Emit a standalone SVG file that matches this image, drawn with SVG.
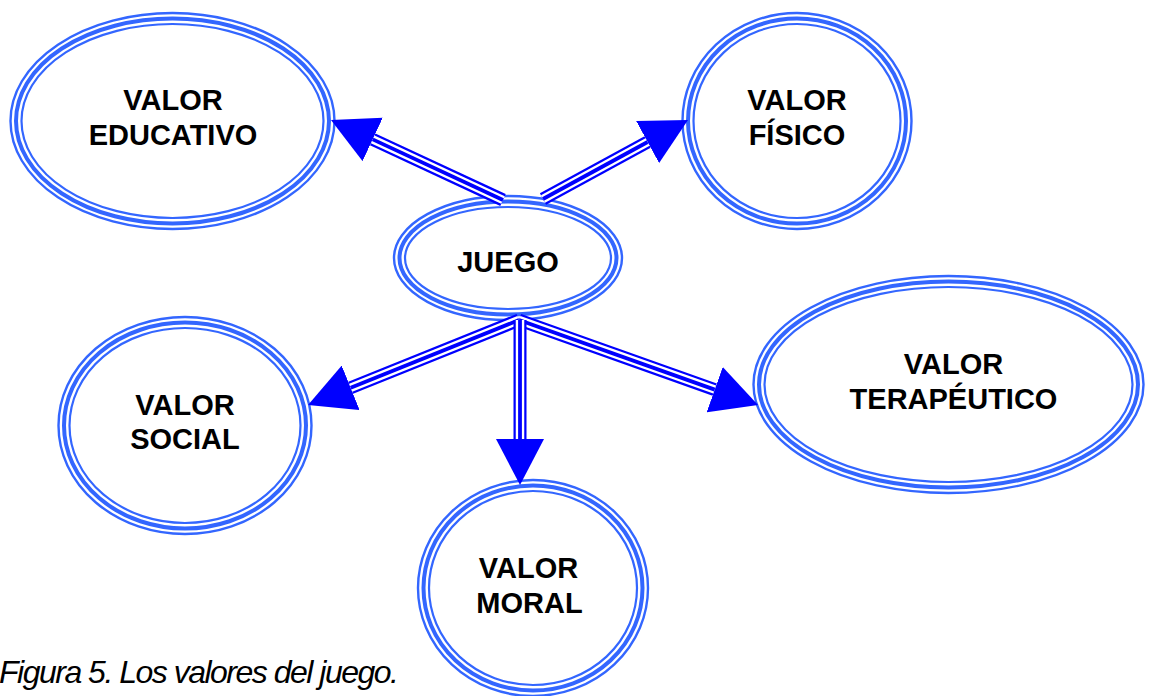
<svg xmlns="http://www.w3.org/2000/svg" width="1150" height="696" viewBox="0 0 1150 696">
<style>
.ro{fill:#ffffff;stroke:#3366ff;stroke-width:2.4}
.rm{fill:none;stroke:#3366ff;stroke-width:4}
.ri{fill:none;stroke:#3366ff;stroke-width:2.2}
.lbl{font-family:"Liberation Sans",Arial,sans-serif;font-weight:bold;font-size:29px;fill:#000000;text-anchor:middle}
.s1{stroke:#0000ff;stroke-width:13;fill:none}
.s2{stroke:#ffffff;stroke-width:8.5;fill:none}
.s3{stroke:#0000ff;stroke-width:3.8;fill:none}
.cap{font-family:"Liberation Sans",Arial,sans-serif;font-style:italic;font-size:32px;letter-spacing:-1.5px;fill:#000000}
</style>
<defs>
<marker id="ah" markerUnits="userSpaceOnUse" viewBox="0 0 46 48" markerWidth="46" markerHeight="48" refX="0" refY="24" orient="auto">
<path d="M0,0 L46,24 L0,48 Z" fill="#0000ff"/>
</marker>
</defs>
<rect width="1150" height="696" fill="#ffffff"/>
<g id="n-educativo">
<ellipse class="ro" cx="172.5" cy="121" rx="162" ry="108"/>
<ellipse class="rm" cx="172.5" cy="121" rx="156.5" ry="102.5"/>
<ellipse class="ri" cx="172.5" cy="121" rx="151" ry="97"/>
<text class="lbl" x="173" y="110">VALOR</text>
<text class="lbl" x="173" y="145">EDUCATIVO</text>
</g>
<g id="n-fisico">
<ellipse class="ro" cx="797" cy="121" rx="114.5" ry="108"/>
<ellipse class="rm" cx="797" cy="121" rx="109" ry="102.5"/>
<ellipse class="ri" cx="797" cy="121" rx="103.5" ry="97"/>
<text class="lbl" x="797" y="110">VALOR</text>
<text class="lbl" x="797" y="145">FÍSICO</text>
</g>
<g id="n-juego">
<ellipse class="ro" cx="508" cy="258" rx="114" ry="62"/>
<ellipse class="rm" cx="508" cy="258" rx="108.5" ry="56.5"/>
<ellipse class="ri" cx="508" cy="258" rx="103" ry="51"/>
<text class="lbl" x="508" y="272">JUEGO</text>
</g>
<g id="n-social">
<ellipse class="ro" cx="185" cy="425.5" rx="126.5" ry="108.5"/>
<ellipse class="rm" cx="185" cy="425.5" rx="121" ry="103"/>
<ellipse class="ri" cx="185" cy="425.5" rx="115.5" ry="97.5"/>
<text class="lbl" x="185" y="415">VALOR</text>
<text class="lbl" x="185" y="449">SOCIAL</text>
</g>
<g id="n-terapeutico">
<ellipse class="ro" cx="948.5" cy="384.5" rx="195" ry="108.5"/>
<ellipse class="rm" cx="948.5" cy="384.5" rx="189.5" ry="103"/>
<ellipse class="ri" cx="948.5" cy="384.5" rx="184" ry="97.5"/>
<text class="lbl" x="953.5" y="374">VALOR</text>
<text class="lbl" x="953.5" y="409">TERAPÉUTICO</text>
</g>
<g id="n-moral">
<ellipse class="ro" cx="533" cy="588" rx="115" ry="108"/>
<ellipse class="rm" cx="533" cy="588" rx="109.5" ry="102.5"/>
<ellipse class="ri" cx="533" cy="588" rx="104" ry="97"/>
<text class="lbl" x="528.5" y="578">VALOR</text>
<text class="lbl" x="529.5" y="613">MORAL</text>
</g>
<g id="connectors">
<g id="c-educativo">
<line class="s1" x1="503" y1="200" x2="372.7" y2="139.4" marker-end="url(#ah)"/>
<line class="s2" x1="503" y1="200" x2="372.7" y2="139.4"/>
<line class="s3" x1="503" y1="200" x2="372.7" y2="139.4"/>
</g>
<g id="c-fisico">
<line class="s1" x1="543" y1="199" x2="647.6" y2="142" marker-end="url(#ah)"/>
<line class="s2" x1="543" y1="199" x2="647.6" y2="142"/>
<line class="s3" x1="543" y1="199" x2="647.6" y2="142"/>
</g>
<g id="c-social">
<line class="s1" x1="519" y1="320" x2="350.7" y2="387.8" marker-end="url(#ah)"/>
<line class="s2" x1="519" y1="320" x2="350.7" y2="387.8"/>
<line class="s3" x1="519" y1="320" x2="350.7" y2="387.8"/>
</g>
<g id="c-terapeutico">
<line class="s1" x1="519" y1="320" x2="714.7" y2="389.6" marker-end="url(#ah)"/>
<line class="s2" x1="519" y1="320" x2="714.7" y2="389.6"/>
<line class="s3" x1="519" y1="320" x2="714.7" y2="389.6"/>
</g>
<g id="c-moral">
<line class="s1" x1="520" y1="320" x2="520" y2="439" marker-end="url(#ah)"/>
<line class="s2" x1="520" y1="320" x2="520" y2="439"/>
<line class="s3" x1="520" y1="320" x2="520" y2="439"/>
</g>
</g>
<text class="cap" x="-1" y="683">Figura 5. Los valores del juego.</text>
</svg>
